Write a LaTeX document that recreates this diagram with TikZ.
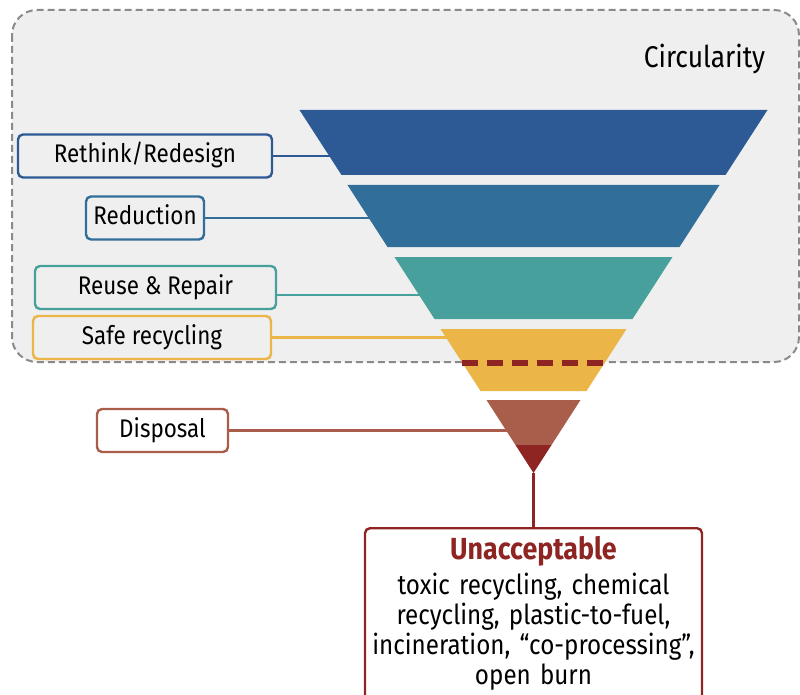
\documentclass[tikz,border=0pt]{standalone}
\usepackage{fontspec}
\setmainfont{Fira Sans}[FakeStretch=0.88]
\usepackage{tikz}

\definecolor{rethinkc}{RGB}{45,90,148}
\definecolor{reducec}{RGB}{49,110,153}
\definecolor{reusec}{RGB}{72,160,156}
\definecolor{safec}{RGB}{235,181,71}
\definecolor{disposc}{RGB}{168,94,74}
\definecolor{unaccc}{RGB}{142,37,35}
\definecolor{circbg}{RGB}{239,239,239}
\definecolor{circln}{RGB}{138,138,138}

\begin{document}
\begin{tikzpicture}[x=1pt,y=-1pt,
    lbl/.style={draw=#1, line width=2.4pt, rounded corners=5pt, inner sep=0pt,
      minimum height=43pt, text height=18pt, text depth=5pt,
      font=\fontsize{25.5}{30}\selectfont},
    link/.style={draw=#1, line width=2.4pt}]
  \useasboundingbox (0,0) rectangle (800,695);
  % circularity area
  \draw [circln, fill=circbg, dash pattern=on 7pt off 4pt, line width=2pt, rounded corners=25pt] (12,10) rectangle (799,362);
  \node [anchor=base, font=\fontsize{30}{32}\selectfont] (circ) at (704.5,68) {Circularity};
  % labels
  \node [lbl=rethinkc, minimum width=254pt] (rethink) at (145,156) {Rethink/Redesign};
  \node [lbl=reducec, minimum width=118pt] (reduce) at (145,218) {Reduction};
  \node [lbl=reusec, minimum width=241pt] (reuse) at (155.5,287.5) {Reuse \& Repair};
  \node [lbl=safec, minimum width=238pt] (safe) at (152,337.5) {Safe recycling};
  \node [lbl=disposc, minimum width=131pt] (dispos) at (162.5,430.5) {Disposal};
  \coordinate (fc) at (533.5,0);
  \coordinate (apex) at (533.5,473);
  \node [draw=unaccc, line width=2.4pt, rounded corners=5pt, anchor=north, minimum width=337pt,
    text width=330pt, align=center, inner xsep=3pt, inner ysep=8pt,
    font=\fontsize{27.5}{30}\selectfont] (unacc) at (533.5,527)
    {{\fontsize{30.5}{30}\selectfont\bfseries\color{unaccc}Unacceptable}\\[5pt]
     toxic recycling, chemical\\
     recycling, plastic-to-fuel,\\
     incineration, “co-processing”,\\
     open burn\rule[-30pt]{0pt}{30pt}};
  % connectors
  \draw [link=rethinkc] (rethink.east) -- (rethink.east -| fc);
  \draw [link=reducec] (reduce.east) -- (reduce.east -| fc);
  \draw [link=reusec] ([yshift=-7.5pt]reuse.east) coordinate (r3) -- (r3 -| fc);
  \draw [link=safec] (safe.east) -- (safe.east -| fc);
  \draw [link=disposc] (dispos.east) -- (dispos.east -| fc);
  \draw [link=unaccc] (apex) -- (unacc.north);
  % funnel
  \fill [rethinkc] (299.5,110) -- (767.5,110) -- (725.5,175) -- (341.5,175) -- cycle;
  \fill [reducec] (347.5,185) -- (719.5,185) -- (679.5,247) -- (387.5,247) -- cycle;
  \fill [reusec] (394.5,257) -- (672.5,257) -- (632.5,319) -- (434.5,319) -- cycle;
  \fill [safec] (440.5,329) -- (626.5,329) -- (586.5,391) -- (480.5,391) -- cycle;
  \draw [unaccc, line width=5.5pt, dash pattern=on 16pt off 9pt] (461.5,363) -- (604.5,363);
  \fill [disposc] (486.5,400) -- (580.5,400) -- (551.5,445) -- (515.5,445) -- cycle;
  \fill [unaccc] (515.5,445) -- (551.5,445) -- (apex) -- cycle;
\end{tikzpicture}
\end{document}
